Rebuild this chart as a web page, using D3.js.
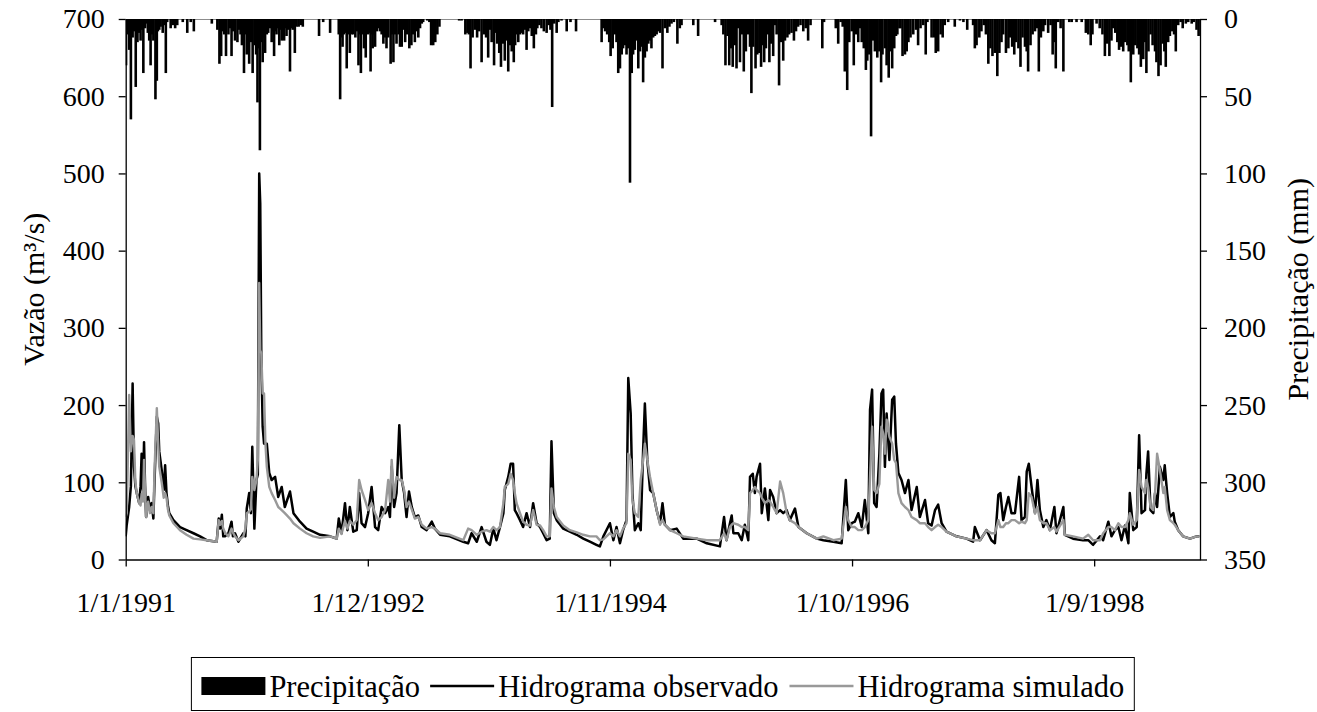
<!DOCTYPE html>
<html><head><meta charset="utf-8">
<script src="https://cdn.jsdelivr.net/npm/d3@7"></script>
<style>
html,body{margin:0;padding:0;background:#fff;}
svg text{font-family:"Liberation Serif","Times New Roman",Times,"DejaVu Serif",serif;fill:#000;}
</style></head><body>
<svg id="chart" width="1317" height="712"></svg>
<script>
// ---------- DATA ----------
const startDate = new Date(1991, 0, 1);   // first day of series
const endDate = new Date(1999, 6, 4);     // end of x axis
const xTickDates = ["1991-01-01", "1992-12-01", "1994-11-01", "1996-10-01", "1998-09-01"];
const xTickLabels = ["1/1/1991", "1/12/1992", "1/11/1994", "1/10/1996", "1/9/1998"];
const flowTicks = [0, 100, 200, 300, 400, 500, 600, 700];
const precipTicks = [0, 50, 100, 150, 200, 250, 300, 350];
const legendLabels = ["Precipitação", "Hidrograma observado", "Hidrograma simulado"];

// Precipitation (mm): day offset since 1/1/1991, value
const precipDays = [1,5,10,15,20,25,29,34,38,43,47,51,56,61,64,68,72,76,80,86,90,93,97,101,107,111,116,120,130,136,143,149,165,178,188,197,249,265,271,276,280,285,290,297,302,306,311,316,323,327,332,336,342,346,350,354,357,362,367,373,377,381,384,388,392,396,400,403,408,412,417,422,425,429,433,436,440,444,448,451,454,458,461,465,470,475,479,483,487,489,494,500,506,512,559,571,591,616,620,623,627,631,635,639,643,648,653,658,664,668,673,676,680,684,689,694,698,701,705,708,711,714,718,721,726,730,735,740,745,750,754,759,766,770,774,779,783,789,
793,798,803,808,814,820,826,831,836,841,846,851,856,860,872,878,883,889,895,901,907,964,971,982,988,992,997,1003,1010,1016,1022,1029,1036,1042,1048,1053,1058,1065,1070,1074,1080,1085,1090,1096,1101,1106,1111,1116,1122,1126,1130,1135,1140,1145,1149,1154,1159,1164,1169,1174,1180,1186,1190,1196,1202,1209,1217,1223,1228,1233,1239,1246,1251,1260,1275,1286,1302,1376,1381,1386,1392,1398,1402,1408,1414,1419,1424,1429,1434,1438,1443,1448,1453,1458,1463,1467,1472,1477,1482,1487,1492,1496,1501,1506,1511,1516,1520,1525,1530,1535,1540,
1545,1552,1559,1566,1572,1578,1585,1595,1602,1607,1641,1655,1704,1723,1728,1734,1740,1745,1750,1755,1761,1766,1771,1776,1781,1787,1793,1799,1805,1809,1814,1821,1826,1832,1837,1841,1846,1851,1856,1861,1866,1872,1877,1882,1889,1894,1901,1906,1913,1918,1925,1932,1938,1944,1951,1959,1966,1973,1980,2014,2019,2053,2060,2067,2073,2079,2086,2092,2099,2105,2111,2118,2123,2128,2134,2140,2144,2150,2155,2161,2166,2173,2179,2184,2188,2195,2200,2206,2211,2216,2222,2227,2231,2237,2240,2246,2253,2258,2263,2269,2277,2285,2291,2298,2306,2313,2318,
2330,2337,2342,2349,2356,2362,2368,2378,2397,2412,2422,2433,2450,2455,2460,2468,2474,2481,2487,2494,2500,2506,2513,2520,2526,2532,2537,2545,2552,2556,2563,2569,2574,2581,2587,2593,2600,2605,2609,2616,2622,2629,2634,2640,2646,2653,2658,2667,2674,2680,2684,2689,2696,2703,2711,2728,2735,2749,2764,2776,2783,2790,2795,2807,2816,2824,2831,2838,2844,2850,2855,2861,2867,2872,2878,2884,2890,2896,2900,2906,2913,2919,2925,2930,2935,2942,2947,2951,2957,2963,2969,2976,2980,2986,2992,2998,3003,3007,3014,3019,3026,3031,3036,3043,3050,3056,3065,3072,3082,3088,3096,3102];
const precipMm = [30,10,20,65,12,8,44,15,9,14,7,35,6,3,9,14,30,10,14,52,40,8,7,5,9,4,35,2,6,4,6,4,2,9,2,8,3,7,29,24,8,10,24,10,6,24,8,14,15,7,10,17,35,10,23,12,29,15,35,17,23,54,19,85,15,28,12,22,10,9,6,15,8,24,8,10,6,17,7,14,8,14,6,11,7,34,6,7,5,22,5,5,4,5,11,2,9,10,52,12,18,10,9,32,10,22,10,10,12,8,30,10,35,10,19,25,8,10,9,34,10,19,10,18,8,6,8,10,16,12,19,12,29,10,28,10,16,10,
18,18,7,15,10,19,17,10,15,8,12,6,3,2,1,2,17,17,15,10,5,1,1,10,9,10,32,12,7,12,8,28,10,12,25,7,15,30,9,16,22,31,16,27,14,34,17,21,28,17,10,15,10,9,10,7,20,8,6,11,19,10,6,4,6,8,9,4,7,57,3,9,2,1,8,2,8,15,6,8,10,15,24,19,10,15,35,32,23,19,17,23,19,106,35,23,20,14,32,21,18,41,25,21,16,14,19,12,11,10,8,
9,32,6,9,5,3,2,16,6,4,4,11,2,4,10,30,11,30,19,31,17,32,6,28,10,34,21,10,18,48,18,32,23,22,31,17,28,19,10,28,16,24,4,10,43,15,27,14,12,10,9,14,8,5,4,8,6,14,4,19,2,6,16,2,5,34,46,15,8,30,10,15,6,15,19,33,27,23,76,14,21,25,21,41,23,19,30,38,21,32,19,11,10,6,6,24,23,21,15,12,10,7,17,6,4,23,2,
12,12,22,21,10,12,4,2,5,1,2,7,4,19,17,12,8,4,10,29,19,24,22,37,22,15,10,22,19,12,18,23,15,19,31,12,18,21,34,17,10,8,6,34,12,8,4,9,4,23,15,32,2,6,34,2,2,2,2,9,10,17,10,3,6,10,24,16,24,14,6,9,15,20,18,21,15,17,21,41,23,17,19,23,31,26,15,35,21,10,17,21,28,37,30,16,21,31,15,11,8,10,21,4,2,6,3,2,3,2,7,11];

// Discharge (m³/s): day offset since 1/1/1991, observed and simulated values
const flowDays = [0,3,10,15,20,24,28,32,39,43,46,50,53,56,59,65,70,75,80,84,90,94,97,104,110,114,118,122,126,138,157,176,196,215,234,263,269,273,278,282,287,297,306,310,316,326,340,346,350,357,362,366,372,378,382,386,389,392,396,400,404,408,415,422,432,441,451,460,475,485,504,523,542,562,591,610,616,624,634,641,648,658,668,675,682,692,701,711,721,730,740,750,759,764,769,776,783,791,798,805,812,819,827,836,846,856,870,885,894,909,937,976,990,1000,1015,1029,1043,1053,1063,1072,1082,1092,1096,1106,1113,1120,1125,1130,1140,1149,1159,1169,1178,1188,1198,1207,1217,1226,1231,1238,1246,1265,1284,1304,1323,1342,1361,1371,1381,1400,1410,1419,1429,1438,1448,1453,1460,1465,1472,1482,1489,1496,1501,1508,1516,1525,1535,1545,1552,1559,1574,1593,1612,1651,1680,1718,1730,1737,1747,1752,1757,1771,1781,1790,1800,1805,1813,1819,1824,1834,1839,1848,1858,1863,1872,1882,1892,1901,1911,1920,1935,1945,1969,1998,2017,2046,2070,2082,2089,2099,2108,2118,2128,2137,2147,2152,2158,2164,2171,2179,2185,2190,2195,2200,2208,2216,2222,2227,2234,2243,2253,2263,2272,2287,2296,2311,2320,2330,2340,2349,2359,2373,2402,2431,2450,2455,2470,2489,2503,2513,2523,2529,2537,2545,2552,2561,2571,2583,2590,2600,2605,2611,2619,2629,2636,2643,2653,2662,2672,2685,2691,2711,2715,2739,2768,2783,2797,2817,2826,2841,2850,2860,2870,2879,2889,2899,2903,2913,2923,2930,2937,2947,2951,2956,2963,2971,2976,2982,2990,3000,3004,3011,3019,3029,3033,3043,3057,3077,3096,3104];
const observed = [30,45,68,95,228,120,95,86,73,95,137,90,152,95,55,81,65,73,53,110,185,176,140,116,90,122,86,70,60,51,42,38,34,30,25,23,53,40,58,30,30,34,49,30,34,23,34,30,66,86,60,146,40,103,110,500,461,267,172,150,150,150,112,103,107,81,94,68,88,60,49,40,36,32,30,27,53,34,73,38,68,36,38,86,47,42,60,94,42,38,68,60,68,55,120,68,86,174,103,86,55,88,68,55,57,42,38,49,40,32,30,23,21,34,23,42,23,19,40,25,42,60,90,107,124,124,64,60,51,42,60,42,73,47,42,34,25,27,153,60,51,40,36,32,27,23,19,17,30,47,25,42,21,38,51,235,189,86,38,47,38,142,202,129,90,86,64,47,73,45,38,40,27,27,21,17,55,25,47,57,34,34,25,45,25,107,111,86,107,124,60,92,51,90,81,60,64,60,64,51,66,42,34,27,25,23,21,103,38,47,49,60,42,77,34,194,220,73,68,137,215,220,120,189,129,207,211,150,112,103,86,103,64,94,55,77,47,44,64,71,47,36,30,27,23,42,25,38,25,21,84,86,51,68,81,60,60,107,51,55,114,124,94,60,103,64,42,51,38,68,34,68,32,27,25,25,19,30,25,49,30,38,42,25,44,21,86,38,42,161,60,64,111,140,64,60,86,68,120,103,122,86,55,60,49,38,30,27,30,30];
const simulated = [55,60,213,140,160,155,100,86,73,70,85,75,129,90,55,75,60,68,60,124,196,150,120,100,80,86,80,65,57,47,38,32,27,26,25,23,51,45,50,40,35,30,40,35,30,25,30,40,60,62,65,107,90,103,129,358,271,267,215,215,150,120,94,86,77,68,64,60,53,47,40,34,30,28,30,27,40,33,50,40,50,45,51,103,90,77,64,73,60,51,55,64,103,75,129,80,107,103,103,90,68,75,65,53,55,45,40,42,40,34,32,25,40,38,32,36,38,36,42,38,42,73,94,98,111,103,86,73,60,49,45,44,64,45,44,38,30,30,92,68,55,44,38,35,32,30,30,25,26,34,30,38,30,40,47,137,129,77,60,55,103,129,150,129,107,86,64,45,51,45,38,34,30,27,25,25,34,25,42,45,47,45,42,42,38,86,90,94,90,86,80,73,77,75,68,60,101,86,60,51,47,42,34,27,30,25,27,68,51,42,42,38,38,42,51,107,172,90,86,98,172,163,137,181,159,150,129,125,86,73,68,64,55,51,47,47,42,38,42,45,42,36,30,27,25,25,25,38,34,34,51,42,42,47,47,51,51,47,49,47,51,86,81,60,68,51,47,47,38,42,36,51,32,30,27,32,25,25,34,42,42,38,47,42,42,51,60,45,51,116,94,86,103,94,68,64,86,137,116,86,94,64,51,47,45,38,30,27,30,30];

// ---------- LAYOUT ----------
const plot = {left: 125.7, right: 1200, top: 19, bottom: 559.5};
const svg = d3.select("#chart");
const dayToDate = d => d3.timeDay.offset(startDate, d);
const parse = d3.timeParse("%Y-%m-%d");
const FONT = '"Liberation Serif","Times New Roman",Times,"DejaVu Serif",serif';

const x = d3.scaleTime().domain([startDate, endDate]).range([plot.left, plot.right]);
const yFlow = d3.scaleLinear().domain([0, 700]).range([plot.bottom, plot.top]);
const yPrec = d3.scaleLinear().domain([0, 350]).range([plot.top, plot.bottom]);

svg.append("defs").append("clipPath").attr("id", "clip")
  .append("rect").attr("x", plot.left).attr("y", plot.top)
  .attr("width", plot.right - plot.left).attr("height", plot.bottom - plot.top);

// plot area top border (gray)
svg.append("line").attr("x1", plot.left).attr("x2", plot.right)
  .attr("y1", plot.top + 0.5).attr("y2", plot.top + 0.5)
  .attr("stroke", "#8c8c8c").attr("stroke-width", 1);

const g = svg.append("g").attr("clip-path", "url(#clip)");

// precipitation bars (hanging from top)
const barW = 2.6;
g.append("g").selectAll("rect").data(precipDays.map((d, i) => ({d: dayToDate(d), v: precipMm[i]})))
  .join("rect")
  .attr("x", p => x(p.d) - barW / 2)
  .attr("y", yPrec(0))
  .attr("width", barW)
  .attr("height", p => yPrec(p.v) - yPrec(0))
  .attr("fill", "#000");

const flowData = flowDays.map((d, i) => ({d: dayToDate(d), o: observed[i], s: simulated[i]}));
const lineObs = d3.line().x(p => x(p.d)).y(p => yFlow(p.o));
const lineSim = d3.line().x(p => x(p.d)).y(p => yFlow(p.s));
g.append("path").datum(flowData).attr("d", lineObs)
  .attr("fill", "none").attr("stroke", "#000").attr("stroke-width", 2.5).attr("stroke-linejoin", "round");
g.append("path").datum(flowData).attr("d", lineSim)
  .attr("fill", "none").attr("stroke", "#999").attr("stroke-width", 2.4).attr("stroke-linejoin", "round");

// axes
const fs = 28;
function styleAxis(sel) {
  sel.attr("font-family", FONT);
  sel.selectAll("path.domain").attr("stroke", "#000").attr("stroke-width", 1.3);
  sel.selectAll(".tick line").attr("stroke", "#000").attr("stroke-width", 1.3);
  sel.selectAll(".tick text").attr("font-size", fs).attr("fill", "#000");
}
const axL = svg.append("g").attr("transform", `translate(${plot.left},0)`)
  .call(d3.axisLeft(yFlow).tickValues(flowTicks).tickSize(7).tickSizeOuter(0).tickPadding(14));
styleAxis(axL);
const axR = svg.append("g").attr("transform", `translate(${plot.right},0)`)
  .call(d3.axisRight(yPrec).tickValues(precipTicks).tickSize(7).tickSizeOuter(0).tickPadding(17));
styleAxis(axR);
const axB = svg.append("g").attr("transform", `translate(0,${plot.bottom})`)
  .call(d3.axisBottom(x).tickValues(xTickDates.map(parse)).tickFormat((d, i) => xTickLabels[i])
    .tickSize(7).tickSizeOuter(0).tickPadding(26));
styleAxis(axB);

// axis titles
const tfs = 30;
svg.append("text").attr("transform", `translate(33,${(plot.top + plot.bottom) / 2}) rotate(-90)`)
  .attr("text-anchor", "middle").attr("dy", "0.35em").attr("font-size", tfs)
  .text("Vazão (m³/s)");
svg.append("text").attr("transform", `translate(1297,${(plot.top + plot.bottom) / 2}) rotate(-90)`)
  .attr("text-anchor", "middle").attr("dy", "0.35em").attr("font-size", tfs)
  .text("Precipitação (mm)");

// legend
const lfs = 30.5;
const leg = svg.append("g");
const legY = 686;
const box = leg.append("rect").attr("fill", "#fff").attr("stroke", "#000").attr("stroke-width", 1);
let cx = 0;
const items = leg.append("g");
const keyW = 64;
items.append("rect").attr("x", cx).attr("y", legY - 9).attr("width", keyW).attr("height", 18).attr("fill", "#000");
cx += keyW + 4;
let t = items.append("text").attr("x", cx).attr("y", legY).attr("dy", "0.35em").attr("font-size", lfs).text(legendLabels[0]);
cx += t.node().getComputedTextLength() + 10;
items.append("line").attr("x1", cx).attr("x2", cx + keyW).attr("y1", legY).attr("y2", legY).attr("stroke", "#000").attr("stroke-width", 2.5);
cx += keyW + 4;
t = items.append("text").attr("x", cx).attr("y", legY).attr("dy", "0.35em").attr("font-size", lfs).text(legendLabels[1]);
cx += t.node().getComputedTextLength() + 11;
items.append("line").attr("x1", cx).attr("x2", cx + keyW).attr("y1", legY).attr("y2", legY).attr("stroke", "#999").attr("stroke-width", 2.4);
cx += keyW + 4;
t = items.append("text").attr("x", cx).attr("y", legY).attr("dy", "0.35em").attr("font-size", lfs).text(legendLabels[2]);
cx += t.node().getComputedTextLength();
const pad = 10;
const legW = cx + 2 * pad;
const legX = (plot.left + plot.right) / 2 - legW / 2;
items.attr("transform", `translate(${legX + pad},0)`);
box.attr("x", legX).attr("y", 657.5).attr("width", legW).attr("height", 53);
</script>
</body></html>
